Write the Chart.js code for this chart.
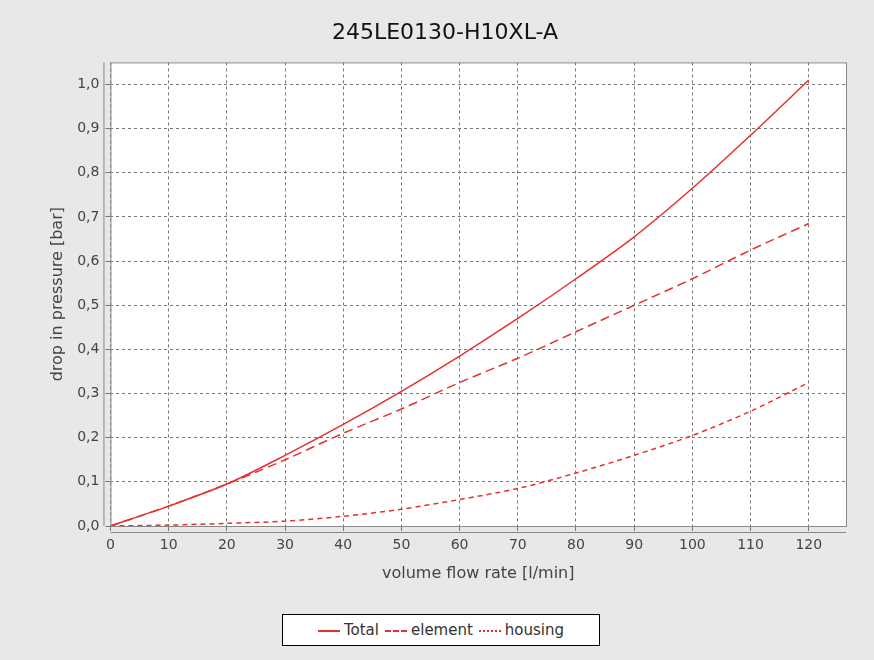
<!DOCTYPE html>
<html><head><meta charset="utf-8">
<script src="https://cdn.jsdelivr.net/npm/chart.js@4"></script>
<style>
body{margin:0;background:#e8e8e8;font-family:"DejaVu Sans",sans-serif}
#wrap{position:relative;width:874px;height:660px}
#lg{position:absolute;left:282px;top:614px;width:318px;height:32px;border:1px solid #000;background:#fff;box-sizing:border-box;display:flex;align-items:center;justify-content:center;font-size:15px;color:#333;gap:6px}
#lg span.s{display:inline-block;width:22px;height:0;border-top:2px solid #e53030;vertical-align:middle;margin-right:4px}
</style></head><body>
<div id="wrap"><canvas id="c" width="874" height="660"></canvas>
<div id="lg"><span><span class="s"></span>Total</span><span><span class="s" style="border-top-style:dashed"></span>element</span><span><span class="s" style="border-top-style:dotted"></span>housing</span></div></div>
<script>
const flow=[0,10,20,30,40,50,60,70,80,90,100,110,120];
const total=[0,0.045,0.095,0.16,0.23,0.305,0.385,0.47,0.56,0.655,0.765,0.885,1.01];
const element=[0,0.045,0.095,0.15,0.21,0.265,0.325,0.38,0.44,0.50,0.56,0.625,0.685];
const housing=[0,0.002,0.006,0.011,0.022,0.038,0.06,0.085,0.12,0.16,0.205,0.26,0.325];
const xTicks=[0,10,20,30,40,50,60,70,80,90,100,110,120];
const yTicks=[0,0.1,0.2,0.3,0.4,0.5,0.6,0.7,0.8,0.9,1.0];
const pts=a=>a.map((v,i)=>({x:flow[i],y:v}));
const frame={id:'frame',beforeDraw(ch){const{ctx,chartArea:a}=ch;ctx.save();ctx.fillStyle='#fff';ctx.fillRect(a.left,a.top,a.right-a.left,a.bottom-a.top);ctx.restore();},
afterDraw(ch){const{ctx,chartArea:a}=ch;ctx.save();ctx.strokeStyle='#888';ctx.lineWidth=1;ctx.strokeRect(a.left+.5,a.top+.5,a.right-a.left,a.bottom-a.top);
ctx.beginPath();ctx.moveTo(a.left-6.5,a.top);ctx.lineTo(a.left-6.5,a.bottom);ctx.moveTo(a.left,a.bottom+6.5);ctx.lineTo(a.right,a.bottom+6.5);ctx.stroke();ctx.restore();}};
const ds=(l,d,dash,w)=>({label:l,data:pts(d),borderColor:'#e53030',borderWidth:w,borderDash:dash,pointRadius:0,fill:false,tension:0.3});
new Chart(document.getElementById('c'),{type:'line',
data:{datasets:[ds('Total',total,[],1.5),ds('element',element,[9,5],1.5),ds('housing',housing,[5,4],1.5)]},
plugins:[frame],
options:{responsive:false,animation:false,
layout:{padding:{left:44,right:28,top:0,bottom:73}},
plugins:{legend:{display:false},tooltip:{enabled:false},
title:{display:true,text:'245LE0130-H10XL-A',color:'#111',font:{family:'DejaVu Sans',size:22,weight:'normal'},padding:{top:20,bottom:16}}},
scales:{
x:{type:'linear',min:0,max:126.4,afterBuildTicks:s=>{s.ticks=xTicks.map(v=>({value:v}))},
title:{display:true,text:'volume flow rate [l/min]',color:'#444',font:{family:'DejaVu Sans',size:16}},
ticks:{color:'#444',font:{family:'DejaVu Sans',size:14},padding:6},
grid:{color:'#777',tickColor:'#777',tickLength:5,drawTicks:true},border:{display:false,dash:[3,3]}},
y:{min:0,max:1.05,afterBuildTicks:s=>{s.ticks=yTicks.map(v=>({value:v}))},
title:{display:true,text:'drop in pressure [bar]',color:'#444',font:{family:'DejaVu Sans',size:16}},
ticks:{color:'#444',font:{family:'DejaVu Sans',size:14},padding:6,callback:v=>v.toFixed(1).replace('.',',')},
grid:{color:'#777',tickLength:5},border:{display:false,dash:[3,3]}}
}}});
</script></body></html>
